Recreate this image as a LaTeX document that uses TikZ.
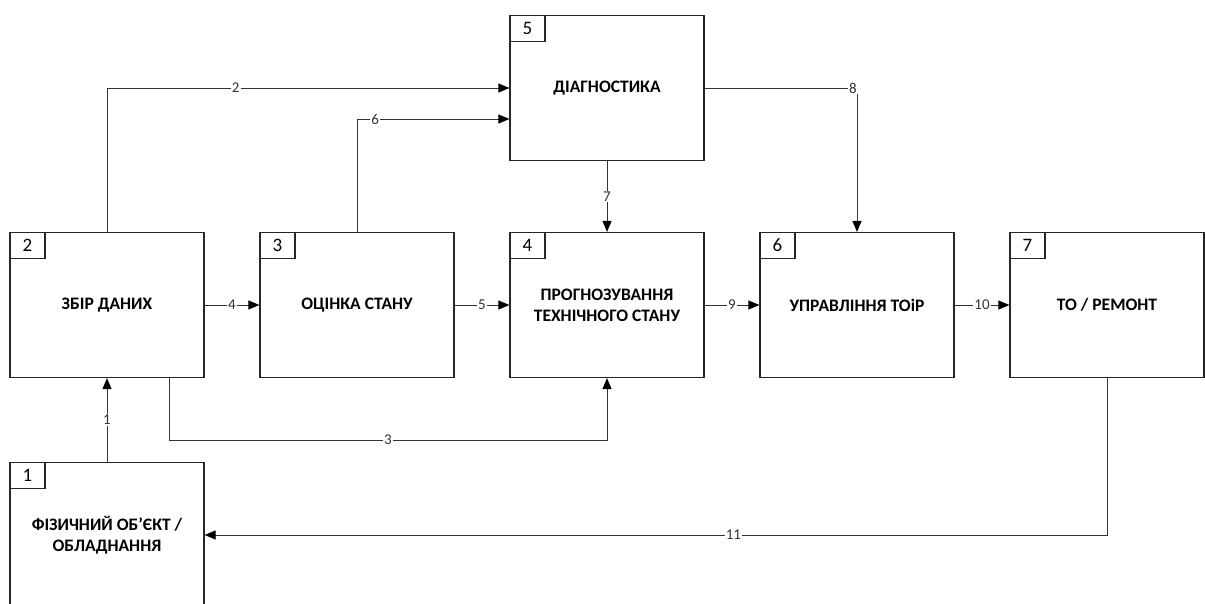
\documentclass[tikz,border=0pt]{standalone}
\usepackage{fontspec}
\setmainfont{Carlito}
\usetikzlibrary{arrows.meta}
\tikzstyle{block}=[draw=black!85,line width=1.2pt,minimum width=194pt,minimum height=145pt,inner sep=0pt,align=center,font=\fontsize{17.5}{21}\selectfont\bfseries]
\tikzstyle{tag}=[draw=black!85,line width=1.2pt,minimum width=35pt,minimum height=26pt,inner sep=0pt,anchor=north west,font=\fontsize{19}{20}\selectfont]
\tikzstyle{flow}=[draw=black!80,line width=1pt,-{Triangle[length=11pt,width=9pt,color=black]}]
\tikzstyle{lbl}=[fill=white,inner sep=1pt,font=\fontsize{15}{15}\selectfont,text=black!80]

\begin{document}
\begin{tikzpicture}[x=1pt,y=-1pt]
\clip (0,0) rectangle (1205,603);
\node[block] at (107, 535) (b1) {ФІЗИЧНИЙ ОБ'ЄКТ /\\ОБЛАДНАННЯ};
\node[block] at (107, 305) (b2) {ЗБІР ДАНИХ};
\node[block] at (357, 305) (b3) {ОЦІНКА СТАНУ};
\node[block] at (607, 305) (b4) {ПРОГНОЗУВАННЯ\\ТЕХНІЧНОГО СТАНУ};
\node[block] at (607, 88) (b5) {ДІАГНОСТИКА};
\node[block] at (857, 305) (b6) {УПРАВЛІННЯ ТОіР};
\node[block] at (1107, 305) (b7) {ТО / РЕМОНТ};
\node[tag] at (b1.north west) (t1) {1};
\node[tag] at (b2.north west) (t2) {2};
\node[tag] at (b3.north west) (t3) {3};
\node[tag] at (b4.north west) (t4) {4};
\node[tag] at (b5.north west) (t5) {5};
\node[tag] at (b6.north west) (t6) {6};
\node[tag] at (b7.north west) (t7) {7};
\coordinate (in6) at ([yshift=-31pt]b5.west);
\draw[flow] (b1.north) -- node[lbl] {1} (b2.south);
\draw[flow] (b2.north) |- node[lbl, pos=0.66] {2} (b5.west);
\draw[flow] ([xshift=62pt]b2.south) -- ++(0,62) -| node[lbl, pos=0.25] {3} (b4.south);
\draw[flow] (b2.east) -- node[lbl] {4} (b3.west);
\draw[flow] (b3.east) -- node[lbl] {5} (b4.west);
\draw[flow] (b3.north) |- node[lbl, pos=0.56] {6} (in6);
\draw[flow] (b5.south) -- node[lbl] {7} (b4.north);
\draw[flow] (b5.east) -| node[lbl, pos=0.487] {8} (b6.north);
\draw[flow] (b4.east) -- node[lbl] {9} (b6.west);
\draw[flow] (b6.east) -- node[lbl] {10} (b7.west);
\draw[flow] (b7.south) |- node[lbl, pos=0.707] {11} (b1.east);
\end{tikzpicture}
\end{document}
